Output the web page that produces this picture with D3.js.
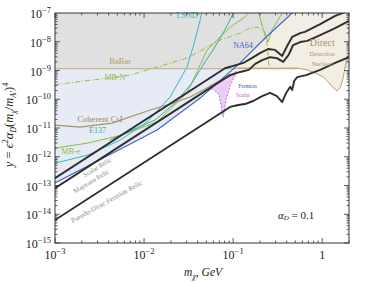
<!DOCTYPE html>
<html><head><meta charset="utf-8">
<script src="https://cdn.jsdelivr.net/npm/d3@7"></script>
<style>body{margin:0;background:#fff}svg{display:block}text{font-family:"Liberation Serif","DejaVu Serif",serif}</style>
</head><body><svg id="c" width="366" height="282"></svg>
<script>
// ---------------- data ----------------
const xDomain = [1e-3, 2];
const yDomain = [1e-15, 1e-7];
const xTickValues = [1e-3, 1e-2, 1e-1, 1];
const xTickLabels = [["10","−3"],["10","−2"],["10","−1"],["1",""]];
const yTickValues = [1e-15,1e-14,1e-13,1e-12,1e-11,1e-10,1e-9,1e-8,1e-7];
const yTickLabels = [["10","−15"],["10","−14"],["10","−13"],["10","−12"],["10","−11"],["10","−10"],["10","−9"],["10","−8"],["10","−7"]];

const babarLevel = 1.15e-9;
const babarMassMax = 0.11;

const scalarRelic = [[0.001,1.8e-13],[0.081,1.2e-9],[0.105,1.5e-9],[0.13,1.83e-9],[0.155,2.5e-9],[0.20,4.0e-9],[0.247,5.6e-9],[0.296,5.2e-9],[0.355,3.2e-9],[0.404,7.1e-9],[0.46,1.47e-8],[0.566,2.0e-8],[0.64,2.2e-8],[0.95,4.1e-8],[1.40,7.9e-8],[1.81,1.08e-7],[2.0,1.3e-7]];
const majoranaRelic = [[0.001,8.1e-14],[0.092,6.9e-10],[0.12,8.9e-10],[0.15,1.05e-9],[0.177,1.7e-9],[0.212,2.3e-9],[0.26,2.9e-9],[0.31,2.7e-9],[0.365,2.0e-9],[0.42,3.5e-9],[0.472,7.7e-9],[0.566,9.8e-9],[0.68,1.07e-8],[0.95,1.71e-8],[1.40,3.0e-8],[2.0,5.3e-8]];
const pseudoDiracRelic = [[0.001,6.3e-15],[0.0925,5.4e-11],[0.114,6.3e-11],[0.136,6.8e-11],[0.168,8.7e-11],[0.212,1.29e-10],[0.26,1.66e-10],[0.31,1.29e-10],[0.355,8.0e-11],[0.394,1.66e-10],[0.437,2.7e-10],[0.46,2.1e-10],[0.485,4.3e-10],[0.524,5.9e-10],[0.66,6.9e-10],[0.95,1.05e-9],[1.40,1.83e-9],[2.0,2.9e-9]];
const na64 = [[0.001,1.23e-13],[0.0032,7.8e-13],[0.014,8.5e-12],[0.0426,1.1e-10],[0.12,1.83e-9],[0.229,1.35e-8],[0.46,1e-7],[0.566,1.9e-7]];
const mbN = [[0.001,3.2e-10],[0.007,6.9e-10],[0.0304,2.7e-9],[0.0714,1.15e-8],[0.12,2.0e-8],[0.155,3.0e-8],[0.19,3.2e-8],[0.223,2.2e-8],[0.241,7.7e-9],[0.253,1.32e-9]];
const mbE = [[0.001,2.0e-12],[0.00235,3.0e-12],[0.0057,5.8e-12],[0.014,1.62e-11],[0.0304,1.66e-10],[0.0511,5.2e-9],[0.0925,3.2e-8],[0.136,7.3e-8],[0.164,1.49e-7],[0.19,1.27e-7],[0.212,3.5e-8],[0.247,9.8e-9],[0.274,2.6e-8],[0.329,6.7e-8],[0.384,1.49e-7]];
const lsnd = [[0.001,6.0e-13],[0.00235,1.15e-12],[0.0054,3.8e-12],[0.0108,1.62e-11],[0.0196,1.2e-10],[0.0304,1.32e-9],[0.0374,1.15e-8],[0.0426,5.7e-8],[0.0449,1.27e-7]];
const e137 = [[0.0041,3.8e-12],[0.007,7.9e-12],[0.0133,1.9e-11],[0.0223,7.4e-11],[0.0346,3.7e-10],[0.0484,2.0e-9],[0.0596,5.2e-9],[0.081,2.6e-8],[0.105,1.27e-7]];
const coherentCsI = [[0.001,1.26e-11],[0.00191,1.07e-11],[0.00437,1.48e-11],[0.0117,4.2e-11],[0.0196,6.8e-11],[0.0329,1.2e-10],[0.0511,2.5e-10],[0.0661,4.0e-10],[0.0925,6.4e-10],[0.12,8.9e-10]];
const nucleon = [[0.114,1.22e-9],[0.3,1.2e-9],[0.524,1.22e-9],[0.678,1.05e-9],[0.879,7.6e-10],[1.03,5.9e-10],[1.17,4.0e-10],[1.33,2.5e-10],[1.47,1.95e-10],[1.59,2.5e-10],[1.72,5.5e-10],[1.81,1.32e-9],[1.91,2.9e-9],[2.0,4.4e-9]];
const resonanceTop = [[0.0485,1.9e-10],[0.111,1.0e-9]];
const resonanceLeft = [[0.0485,1.9e-10],[0.0596,2.3e-10],[0.0697,1.41e-10],[0.0772,2.4e-11]];
const resonanceRight = [[0.0772,2.4e-11],[0.0834,9.3e-11],[0.0925,2.9e-10],[0.111,1.0e-9]];

// ---------------- drawing ----------------
const W=366,H=282, L=55,R=349,T=13,B=243;
const svg=d3.select("#c");
const x=d3.scaleLog().domain(xDomain).range([L,R]);
const y=d3.scaleLog().domain(yDomain).range([B,T]);
const line=d3.line().x(d=>x(d[0])).y(d=>y(d[1]));

svg.append("defs").append("clipPath").attr("id","clip").append("rect").attr("x",L).attr("y",T).attr("width",R-L).attr("height",B-T);
const g=svg.append("g").attr("clip-path","url(#clip)");

g.append("rect").attr("x",L).attr("y",T).attr("width",R-L).attr("height",y(babarLevel)-T).attr("fill","#e0e0e1");
const bluePoly=[[xDomain[0],babarLevel],[babarMassMax,babarLevel]].concat(na64.filter(d=>d[0]<babarMassMax).reverse()).concat([[xDomain[0],9e-14]]);
g.append("path").attr("d",line(bluePoly)+"Z").attr("fill","#e7ebf5");
const beigePoly=na64.filter(d=>d[0]>=0.12).reverse().concat(nucleon).concat([[xDomain[1]*1.2,3e-7]]);
g.append("path").attr("d",line(beigePoly)+"Z").attr("fill","#f3eee4");
g.append("path").attr("d",line(resonanceLeft.concat(resonanceRight.slice(1)))+"Z").attr("fill","#ebcdf3");

function curve(data,color,w,dash){
  g.append("path").attr("d",line(data)).attr("fill","none").attr("stroke",color).attr("stroke-width",w).attr("stroke-dasharray",dash||null).attr("stroke-linejoin","round");
}
curve(mbN,"#94c23a",1,"5,2,1,2");
curve(mbE,"#8dbd3c",1);
curve(e137,"#3bab94",1);
curve(lsnd,"#37b8c4",1);
curve([[xDomain[0],babarLevel],[0.52,babarLevel]],"#c4a878",1.1);
curve(coherentCsI,"#a69467",1.1);
curve(nucleon,"#c4a070",1);
curve(resonanceLeft,"#5570d0",0.8,"2,1.5");
curve(resonanceRight,"#d050d8",0.8,"2,1.5");
curve(resonanceTop,"#a050d0",0.8,"2,1.5");
curve(na64,"#3c62c4",1.1);
curve(scalarRelic,"#2e2e2e",1.9);
curve(majoranaRelic,"#2e2e2e",1.9);
curve(pseudoDiracRelic,"#2e2e2e",1.9);

function label(t,m,v,color,size,anchor,rot){
  const px=x(m),py=y(v);
  svg.append("text").attr("x",px).attr("y",py).attr("text-anchor",anchor||"middle").attr("dominant-baseline","central")
   .attr("fill",color).attr("font-size",size).attr("transform",rot?`rotate(${rot},${px},${py})`:null).text(t);
}
label("LSND",0.0304,8.5e-8,"#37b8c4",8);
label("BaBar",0.0054,2.1e-9,"#b89a66",8.5);
label("MB-N",0.0047,5.9e-10,"#8dbd3c",8);
label("Coherent CsI",0.0032,2.0e-11,"#9a8a5e",8.5);
label("E137",0.0030,7.9e-12,"#3bab94",8);
label("MB-e",0.0015,1.58e-12,"#8dbd3c",8);
label("NA64",0.129,7.7e-9,"#3c62c4",8);
label("Direct",1.0,9.8e-9,"#a89468",10);
label("Detection",1.0,4.0e-9,"#a89468",6.5);
label("Nucleon",1.0,1.7e-9,"#a89468",6.5);
label("Fermion",0.114,2.9e-10,"#3c62c4",5.5,"start");
label("Scalar",0.108,1.41e-10,"#d040d8",5.5,"start");
label("Scalar Relic",0.00297,4.4e-13,"#888",6.5,"middle",-31);
label("Majorana Relic",0.00254,1.44e-13,"#888",6.5,"middle",-31);
label("Pseudo-Dirac Fermion Relic",0.0038,2.7e-14,"#888",7,"middle",-29);

const al=svg.append("text").attr("x",x(0.51)).attr("y",y(9.3e-15)).attr("text-anchor","middle").attr("dominant-baseline","central").attr("font-size",11).attr("fill","#222");
al.append("tspan").attr("font-style","italic").text("α");
al.append("tspan").attr("font-size",7).attr("font-style","italic").attr("dy",2.5).text("D");
al.append("tspan").attr("dy",-2.5).text(" = 0.1");

svg.append("rect").attr("x",L).attr("y",T).attr("width",R-L).attr("height",B-T).attr("fill","none").attr("stroke","#333").attr("stroke-width",1);
const tg=svg.append("g").attr("stroke","#333").attr("stroke-width",0.8);
d3.range(-3,1).forEach(e=>{for(let k=1;k<10;k++){const v=k*Math.pow(10,e); if(v>xDomain[1]) continue; const len=k===1?5:2.5; const px=x(v);
  tg.append("line").attr("x1",px).attr("x2",px).attr("y1",B).attr("y2",B-len);
  tg.append("line").attr("x1",px).attr("x2",px).attr("y1",T).attr("y2",T+len);}});
d3.range(-15,-7).forEach(e=>{for(let k=1;k<10;k++){const v=k*Math.pow(10,e); const len=k===1?5:2.5; const py=y(v);
  tg.append("line").attr("x1",L).attr("x2",L+len).attr("y1",py).attr("y2",py);
  tg.append("line").attr("x1",R).attr("x2",R-len).attr("y1",py).attr("y2",py);}});

xTickValues.forEach((v,i)=>{
  const t=svg.append("text").attr("x",x(v)).attr("y",B+16).attr("text-anchor","middle").attr("font-size",12).attr("fill","#222");
  t.append("tspan").text(xTickLabels[i][0]);
  if(xTickLabels[i][1]) t.append("tspan").attr("font-size",8.5).attr("dy",-5).text(xTickLabels[i][1]);
});
yTickValues.forEach((v,i)=>{
  const t=svg.append("text").attr("x",L-4).attr("y",y(v)+5).attr("text-anchor","end").attr("font-size",12).attr("fill","#222");
  t.append("tspan").text(yTickLabels[i][0]);
  t.append("tspan").attr("font-size",8.5).attr("dy",-5).text(yTickLabels[i][1]);
});

const xt=svg.append("text").attr("x",203).attr("y",276).attr("text-anchor","middle").attr("font-size",11.5).attr("fill","#222");
xt.append("tspan").attr("font-style","italic").text("m");
xt.append("tspan").attr("font-style","italic").attr("font-size",8).attr("dy",2.5).text("χ");
xt.append("tspan").attr("dy",-2.5).text(", ");
xt.append("tspan").attr("font-style","italic").text("GeV");

const yt=svg.append("text").attr("transform","translate(13,125) rotate(-90)").attr("text-anchor","middle").attr("font-size",12.5).attr("fill","#222");
yt.append("tspan").attr("font-style","italic").text("y");
yt.append("tspan").text(" = ");
yt.append("tspan").attr("font-style","italic").text("ϵ");
yt.append("tspan").attr("font-size",8).attr("dy",-5).text("2");
yt.append("tspan").attr("font-style","italic").attr("dy",5).text("α");
yt.append("tspan").attr("font-style","italic").attr("font-size",8).attr("dy",3).text("D");
yt.append("tspan").attr("dy",-3).text("(");
yt.append("tspan").attr("font-style","italic").text("m");
yt.append("tspan").attr("font-style","italic").attr("font-size",8).attr("dy",3).text("χ");
yt.append("tspan").attr("dy",-3).text("/");
yt.append("tspan").attr("font-style","italic").text("m");
yt.append("tspan").attr("font-style","italic").attr("font-size",8).attr("dy",3).text("A′");
yt.append("tspan").attr("dy",-3).text(")");
yt.append("tspan").attr("font-size",8).attr("dy",-5).text("4");
</script></body></html>
